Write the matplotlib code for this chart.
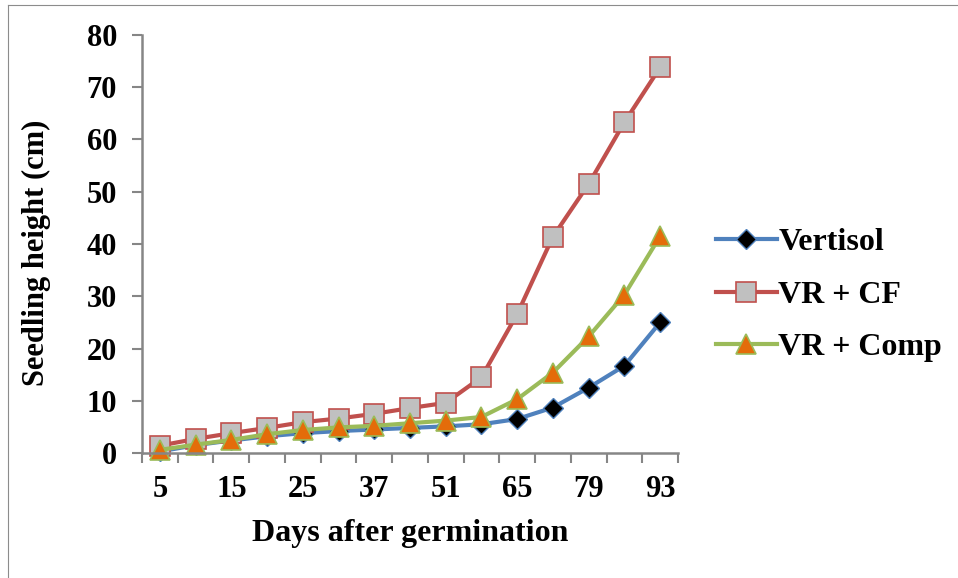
import matplotlib
matplotlib.use("Agg")
import matplotlib.pyplot as plt
from matplotlib.lines import Line2D
import numpy as np

# days after germination (every second one is labelled on the axis)
days = [5, 10, 15, 20, 25, 30, 37, 44, 51, 58, 65, 72, 79, 86, 93]

# seedling height (cm)
vertisol = [0.3, 1.5, 2.4, 3.2, 3.8, 4.2, 4.5, 4.8, 5.1, 5.5, 6.5, 8.7, 12.5, 16.7, 25.0]
vr_cf = [1.4, 2.7, 3.8, 4.8, 5.9, 6.6, 7.5, 8.6, 9.6, 14.5, 26.6, 41.4, 51.5, 63.3, 73.8]
vr_comp = [0.6, 1.6, 2.5, 3.6, 4.4, 4.9, 5.2, 5.7, 6.2, 6.9, 10.3, 15.4, 22.3, 30.3, 41.5]

plt.rcParams['font.family'] = ['Liberation Serif', 'DejaVu Serif']
plt.rcParams['font.weight'] = 'bold'

fig = plt.figure(figsize=(9.58, 5.78), dpi=100)
ax = fig.add_axes([142/958, 1 - 453/578, 536/958, 418/578])

x = np.arange(len(days))
ax.plot(x, vertisol, color='#4F81BD', lw=3, marker='D', ms=10,
        mfc='black', mec='#4F81BD', mew=1, label='Vertisol', clip_on=False)
ax.plot(x, vr_cf, color='#C0504D', lw=3, marker='s', ms=14,
        mfc='#C0C0C0', mec='#C0504D', mew=1.2, label='VR + CF', clip_on=False)
ax.plot(x, vr_comp, color='#9BBB59', lw=3, marker='^', ms=14,
        mfc='#E46C0A', mec='#9BBB59', mew=1.2, label='VR + Comp', clip_on=False)

ax.set_xlim(-0.5, len(days) - 0.5)
ax.set_ylim(0, 80)
ax.set_yticks(range(0, 81, 10))

# category labels every second day, tick marks between categories
ax.set_xticks(x[::2])
ax.set_xticklabels([str(d) for d in days[::2]])
ax.set_xticks(np.arange(-0.5, len(days), 1.0), minor=True)
ax.tick_params(axis='x', which='major', length=0, pad=16, labelsize=22)
ax.tick_params(axis='x', which='minor', length=7, width=1.5, color='#868686',
               direction='out')
ax.tick_params(axis='y', length=7, width=1.5, color='#868686',
               direction='out', pad=11, labelsize=22)

for side in ['top', 'right']:
    ax.spines[side].set_visible(False)
for side in ['left', 'bottom']:
    ax.spines[side].set_color('#868686')
    ax.spines[side].set_linewidth(1.8)

ax.set_xlabel('Days after germination', fontsize=23, fontweight='bold')
ax.xaxis.set_label_coords(0.5, -0.157)
ax.set_ylabel('Seedling height (cm)', fontsize=22, fontweight='bold')
ax.yaxis.set_label_coords(-0.17, 0.48)

fig.legend(loc='center left', bbox_to_anchor=(716/958, 1 - 295/578),
           frameon=False, fontsize=23, handlelength=1.9, handletextpad=0.05,
           labelspacing=0.72, borderaxespad=0, borderpad=0)

# thin chart frame
fig.add_artist(Line2D([8/958, 8/958], [0, 1 - 5/578], transform=fig.transFigure,
                      color='#8c8c8c', lw=0.8))
fig.add_artist(Line2D([8/958, 1], [1 - 5/578, 1 - 5/578], transform=fig.transFigure,
                      color='#8c8c8c', lw=0.8))

fig.savefig('out.png', dpi=100)
